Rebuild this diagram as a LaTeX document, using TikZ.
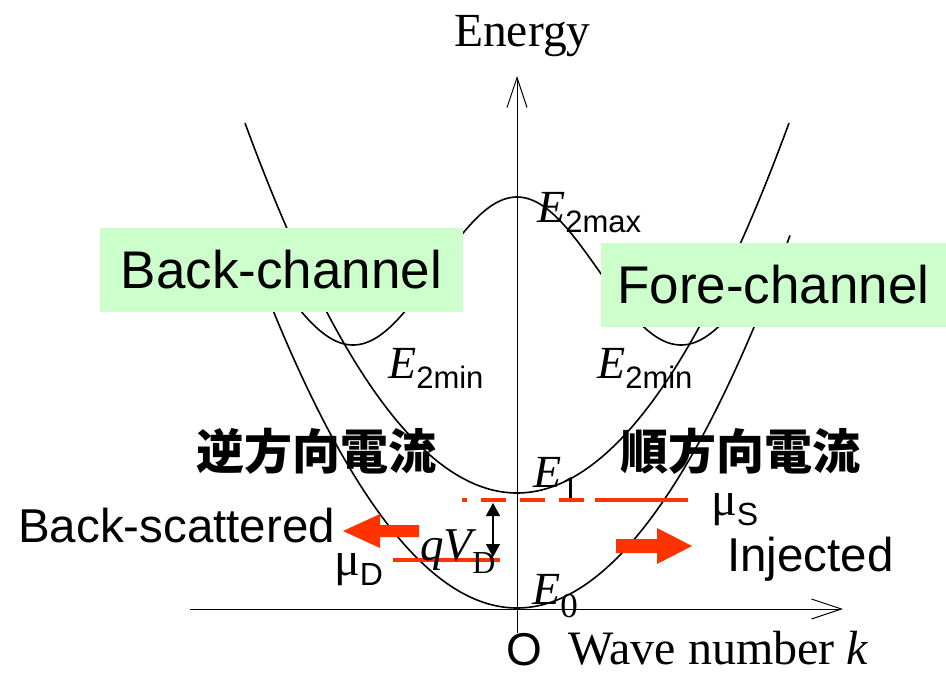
\documentclass[tikz,border=0pt]{standalone}
\usepackage{fontspec}
\setmainfont{Liberation Serif}
\newfontfamily\arial{Liberation Sans}
\newfontfamily\cjk{Noto Sans CJK JP}
\usetikzlibrary{arrows.meta}
\definecolor{boxgreen}{HTML}{CCFFCC}
\definecolor{myred}{HTML}{FF3300}
\newcommand{\fs}[1]{\fontsize{#1}{#1}\selectfont}
\newcommand{\Elab}[1]{{\fs{46}\itshape E}\raisebox{-10pt}{\fs{31}\arial #1}}
\newcommand{\Enum}[1]{{\fs{46}\itshape E}\raisebox{-13pt}{\fs{35}#1}}
\newcommand{\mulab}[1]{{\fs{48}μ}\raisebox{-10pt}{\fs{32}\arial #1}}
\begin{document}
\begin{tikzpicture}[x=1pt,y=-1pt,
  lbl/.style={inner sep=0pt, anchor=base west},
  band/.style={line width=1.6pt, black},
  axisline/.style={line width=1pt, black, -{Straight Barb[length=30pt,width=20pt,line width=1pt]}},
  redline/.style={myred, line width=4pt},
  chanbox/.style={fill=boxgreen, draw=none, inner sep=0pt, font=\arial\fs{53}},
  sanslbl/.style={inner sep=0pt, anchor=base west, font=\arial\fs{47.5}},
  jplbl/.style={inner sep=0pt, font=\cjk\bfseries\fs{48}},
  redarrow/.style={fill=myred, draw=none}]
\useasboundingbox (0,0) rectangle (946,673);

% axes
\coordinate (yb) at (517,633);
\coordinate (yt) at (517,76);
\coordinate (xl) at (190,609);
\coordinate (xr) at (843,609);
\draw[axisline] (yb) -- (yt);
\draw[axisline] (xl) -- (xr);

% bands
\draw[band] plot[domain=-273:273,samples=120] ({517+\x},{608-50*(\x/100)*(\x/100)});
\draw[band] plot[domain=-272:272,samples=120] ({517+\x},{493-50*(\x/100)*(\x/100)});
\draw[band] plot[domain=-238:238,samples=160] ({517+\x},{197+74*(1-cos((\x/164)*180))});

% channel boxes
\node[chanbox, minimum width=363pt, minimum height=84pt] (back) at (281.5,270) {Back-channel};
\node[chanbox, minimum width=345pt, minimum height=84pt] (fore) at (773.5,285) {Fore-channel};

% labels
\node[lbl, font=\fs{47.5}] (energy) at (454,46) {Energy};
\node[lbl] (e2max) at (537,222) {\Elab{2max}};
\node[lbl] (e2minl) at (388,378) {\Elab{2min}};
\node[lbl] (e2minr) at (597,378) {\Elab{2min}};
\node[lbl] (e1) at (533,487) {\Enum{1}};
\node[lbl] (e0) at (532,604) {\Enum{0}};

% chemical potentials
\coordinate (musa) at (462,500);
\coordinate (musb) at (590,500);
\coordinate (musc) at (595,500);
\coordinate (musd) at (688,500);
\draw[redline, dash pattern=on 25pt off 14pt, dash phase=20pt] (musa) -- (musb);
\draw[redline] (musc) -- (musd);
\coordinate (muda) at (393,560);
\coordinate (mudb) at (500,560);
\draw[redline] (muda) -- (mudb);
\node[lbl] (mus) at (711,515) {\mulab{S}};
\node[lbl] (mud) at (334,575) {\mulab{D}};

% qV_D
\coordinate (qa) at (493,503);
\coordinate (qb) at (493,557);
\draw[line width=1.3pt, {Triangle[length=13pt,width=14pt]}-{Triangle[length=13pt,width=14pt]}] (qa) -- (qb);
\node[lbl] (qvd) at (420,560) {{\fs{47}\itshape qV}\raisebox{-13pt}{\fs{32}D}};

% direction labels
\node[jplbl] (rev) at (316,451) {逆方向電流};
\node[jplbl] (fwd) at (740,451) {順方向電流};

% red arrows
\fill[redarrow] (419,525) -- (380,525) -- (380,514) -- (343,531) -- (380,548) -- (380,537) -- (419,537) -- cycle;
\fill[redarrow] (616,539) -- (657,539) -- (657,528) -- (692,546) -- (657,564) -- (657,553) -- (616,553) -- cycle;
\node[sanslbl] (bs) at (18,542) {Back-scattered};
\node[sanslbl] (inj) at (727,571) {Injected};

% origin and k-axis label
\node[inner sep=0pt, anchor=base, font=\arial\fs{46}] (orig) at (524,665) {O};
\node[lbl, font=\fs{48}] (wave) at (568,664) {Wave number {\itshape k}};
\end{tikzpicture}
\end{document}
